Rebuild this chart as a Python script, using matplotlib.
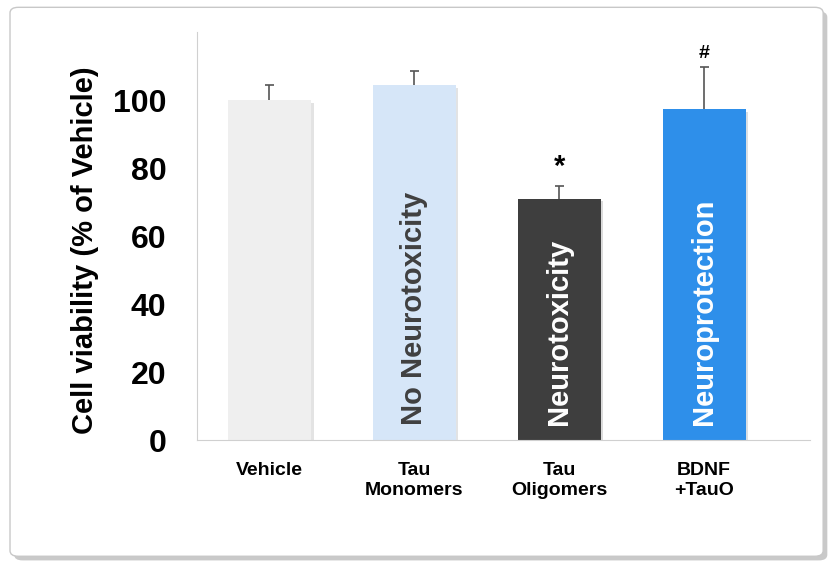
import matplotlib
matplotlib.use("Agg")
import matplotlib.pyplot as plt
from matplotlib.patches import FancyBboxPatch
import matplotlib.patheffects as pe

plt.rcParams['font.family'] = ['Liberation Sans', 'DejaVu Sans']

categories = ["Vehicle", "Tau\nMonomers", "Tau\nOligomers", "BDNF\n+TauO"]
values = [100, 104.4, 71, 97.4]
errors = [4.3, 4.1, 3.7, 12.3]
colors = ["#efefef", "#d6e6f8", "#3e3e3e", "#2e8fea"]
inner_labels = ["", "No Neurotoxicity", "Neurotoxicity", "Neuroprotection"]
inner_colors = ["#404040", "#404040", "white", "white"]
marks = ["", "", "*", "#"]

fig = plt.figure(figsize=(8.34, 5.63), dpi=100)
frame = FancyBboxPatch((0.012, 0.012), 0.975, 0.975, boxstyle="round,pad=0,rounding_size=0.01",
                       transform=fig.transFigure, facecolor="white", edgecolor="#c8c8c8", lw=1, zorder=-10,
                       path_effects=[pe.SimplePatchShadow(offset=(3, -3), alpha=0.3), pe.Normal()])
fig.patches.append(frame)
ax = fig.add_axes([197/834, 1-440/563, 613/834, 408/563])
ax.set_zorder(5)
ax.set_facecolor("none")
x = list(range(len(categories)))
ax.bar(x, values, width=0.57, color=colors, zorder=2,
       path_effects=[pe.SimplePatchShadow(offset=(2, -2), alpha=0.15), pe.Normal()])
tops = [v + e for v, e in zip(values, errors)]
ax.vlines(x, values, tops, color="#555555", lw=1.2, zorder=3)
ax.hlines(tops, [i - 0.03 for i in x], [i + 0.03 for i in x], color="#555555", lw=1.2, zorder=3)
for i, (v, e) in enumerate(zip(values, errors)):
    if inner_labels[i]:
        ax.text(i, 4.5, inner_labels[i], rotation=90, ha="center", va="bottom", fontsize=21, fontweight="bold",
                color=inner_colors[i], zorder=4)
    if marks[i]:
        ax.text(i, v + e + 1.5, marks[i], ha="center", va="bottom", fontsize=21 if marks[i] == "*" else 14,
                fontweight="bold", color="black")
ax.set_xlim(-0.5, 3.73)
ax.set_ylim(0, 120)
ax.set_yticks([0, 20, 40, 60, 80, 100])
ax.tick_params(axis="y", length=0, labelsize=23, pad=22)
ax.tick_params(axis="x", length=0, labelsize=14, pad=16)
for lab in ax.get_yticklabels() + ax.get_xticklabels():
    lab.set_fontweight("bold")
ax.set_xticks(x)
ax.set_xticklabels(categories)
ax.set_ylabel("Cell viability (% of Vehicle)", fontsize=21, fontweight="bold", labelpad=8)
ax.yaxis.set_label_coords(-0.16, 0.465)
for s in ["top", "right"]:
    ax.spines[s].set_visible(False)
for s in ["left", "bottom"]:
    ax.spines[s].set_color("#d0d0d0")
fig.savefig("out.png", dpi=100)
